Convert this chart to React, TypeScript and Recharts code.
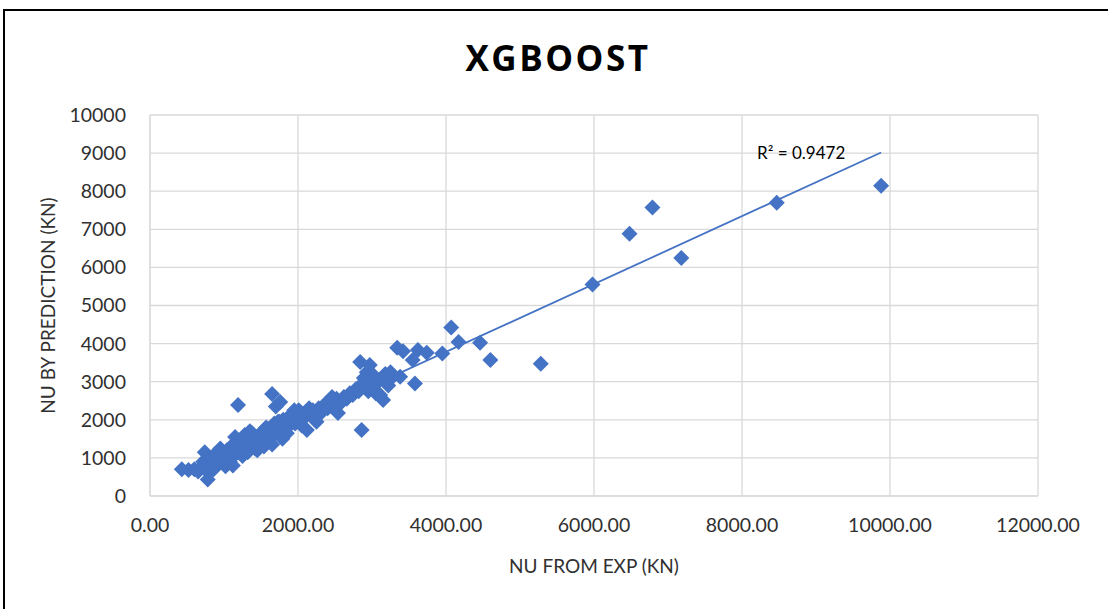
import React from 'react';
import { ScatterChart, Scatter, XAxis, YAxis, CartesianGrid, ReferenceLine, ReferenceDot } from 'recharts';

const EXP_VALUES = [
    430, 520, 600, 650, 700, 720, 740, 760, 780, 790, 810, 830, 860, 880, 900, 920, 950, 980, 1000, 1020,
    1040, 1060, 1080, 1100, 1110, 1130, 1150, 1170, 1190, 1200, 1220, 1240, 1260, 1280, 1300, 1320, 1340, 1360, 1380, 1400,
    1420, 1440, 1460, 1480, 1500, 1520, 1540, 1560, 1580, 1600, 1620, 1640, 1650, 1660, 1680, 1700, 1710, 1730, 1750, 1760,
    1780, 1800, 1820, 1840, 1860, 1880, 1900, 1930, 1960, 2000, 2030, 2060, 2100, 2120, 2150, 2170, 2200, 2240, 2280, 2320,
    2360, 2400, 2440, 2480, 2520, 2540, 2580, 2620, 2660, 2700, 2740, 2780, 2820, 2840, 2860, 2870, 2890, 2910, 2930, 2950,
    2970, 2990, 3010, 3030, 3050, 3080, 3110, 3150, 3180, 3220, 3250, 3290, 3340, 3380, 3420, 3550, 3580, 3620, 3740, 3950,
    4070, 4170, 4460, 4600, 5280, 5980, 6480, 6790, 7180, 8470, 9880,
    // extra points filling the dense band
    950, 1050, 1150, 1250, 1350, 1450, 1550, 1650, 1750, 1850, 1950, 2050, 880, 1120, 1330, 1570, 1790, 2010, 2250, 2460,
];
const PRED_VALUES = [
    700, 680, 700, 640, 760, 900, 1150, 880, 430, 620, 800, 1000, 700, 950, 820, 1050, 900, 1100, 980, 780,
    1200, 1000, 900, 1300, 1150, 1050, 1400, 1250, 2390, 1150, 1350, 1500, 1250, 1600, 1400, 1150, 1500, 1300, 1650, 1450,
    1250, 1550, 1400, 1350, 1650, 1500, 1300, 1600, 1450, 1700, 1550, 1750, 2680, 1600, 1900, 2350, 1700, 1950, 1650, 2470,
    1800, 2000, 1700, 1900, 2050, 1850, 2000, 2100, 1900, 2050, 2150, 2000, 2200, 1730, 2300, 2150, 2250, 2100, 2300, 2200,
    2400, 2300, 2450, 2350, 2550, 2180, 2450, 2600, 2550, 2700, 2650, 2800, 2750, 3520, 1730, 2950, 3100, 2850, 3250, 2750,
    3440, 3000, 2850, 3150, 2700, 3000, 2650, 2520, 3200, 2900, 3250, 3150, 3890, 3130, 3800, 3570, 2950, 3830, 3760, 3740,
    4420, 4040, 4020, 3570, 3470, 5550, 6880, 7570, 6250, 7700, 8140,
    1250, 850, 1550, 1050, 1700, 1200, 1750, 1350, 1950, 1650, 2250, 1850, 1100, 800, 1200, 1800, 1500, 2250, 1950, 2600,
];
const X_TICKS = [0, 2000, 4000, 6000, 8000, 10000, 12000];
const Y_TICKS = [0, 1000, 2000, 3000, 4000, 5000, 6000, 7000, 8000, 9000, 10000];

// linear trendline
const TREND_SLOPE = 0.89;
const TREND_INTERCEPT = 224;
const TREND_RANGE = [430, 9880];
const R2_TEXT = 'R² = 0.9472';

const BLUE = '#4472C4';
const GRID = '#D9D9D9';
const TEXT = '#303030';
const FONT = 'Lato, "Open Sans", sans-serif';

const Diamond = (props: any) => {
    const { cx, cy } = props;
    const r = 8;
    return <path d={`M${cx},${cy - r}L${cx + r},${cy}L${cx},${cy + r}L${cx - r},${cy}Z`} fill={BLUE} />;
};

const App: React.FC = () => {
    const data = EXP_VALUES.map((x, i) => ({ x, y: PRED_VALUES[i] }));
    const trend = TREND_RANGE.map((x) => ({ x, y: TREND_SLOPE * x + TREND_INTERCEPT }));

    return (
        <div style={{ position: 'fixed', left: 0, top: 0, width: 1108, height: 609, background: '#fff', overflow: 'hidden', fontFamily: FONT }}>
            <div style={{ position: 'absolute', left: 3, top: 9, width: 1300, height: 800, border: '2px solid #000', boxSizing: 'border-box' }} />
            <div style={{ position: 'absolute', left: 0, top: 34, width: 1116, textAlign: 'center', fontSize: 35, fontWeight: 700, letterSpacing: 2.5, color: '#000', fontFamily: '"Open Sans", sans-serif' }}>
                XGBOOST
            </div>
            <div style={{ position: 'absolute', left: 0, top: 0 }}>
                <ScatterChart width={1108} height={609} margin={{ top: 115, right: 70, bottom: 0, left: 0 }}>
                    <CartesianGrid stroke={GRID} strokeWidth={1.3} horizontalValues={Y_TICKS} verticalValues={X_TICKS} />
                    <XAxis
                        type="number"
                        dataKey="x"
                        domain={[0, 12000]}
                        ticks={X_TICKS}
                        tickFormatter={(v: number) => v.toFixed(2)}
                        axisLine={{ stroke: GRID }}
                        tickLine={false}
                        tickMargin={16}
                        height={113}
                        tick={{ fill: TEXT, fontSize: 19.5, fontFamily: FONT }}
                        label={{ value: 'NU FROM EXP (KN)', position: 'insideTop', offset: 64, fill: TEXT, fontSize: 19, fontFamily: FONT }}
                    />
                    <YAxis
                        type="number"
                        dataKey="y"
                        domain={[0, 10000]}
                        ticks={Y_TICKS}
                        axisLine={{ stroke: GRID }}
                        tickLine={false}
                        tickMargin={18}
                        width={150}
                        tick={{ fill: TEXT, fontSize: 19.5, fontFamily: FONT }}
                        label={{ value: 'NU BY PREDICTION (KN)', angle: -90, position: 'insideLeft', offset: 48, fill: TEXT, fontSize: 19, fontFamily: FONT, style: { textAnchor: 'middle' } }}
                    />
                    <ReferenceLine segment={[trend[0], trend[1]]} stroke={BLUE} strokeWidth={1.8} />
                    <Scatter data={data} shape={Diamond} isAnimationActive={false} />
                    <ReferenceDot x={8800} y={9000} r={0} fill="none" stroke="none" label={{ value: R2_TEXT, position: 'center', fill: '#000', fontSize: 17, fontFamily: FONT }} />
                </ScatterChart>
            </div>
        </div>
    );
};

export default App;
